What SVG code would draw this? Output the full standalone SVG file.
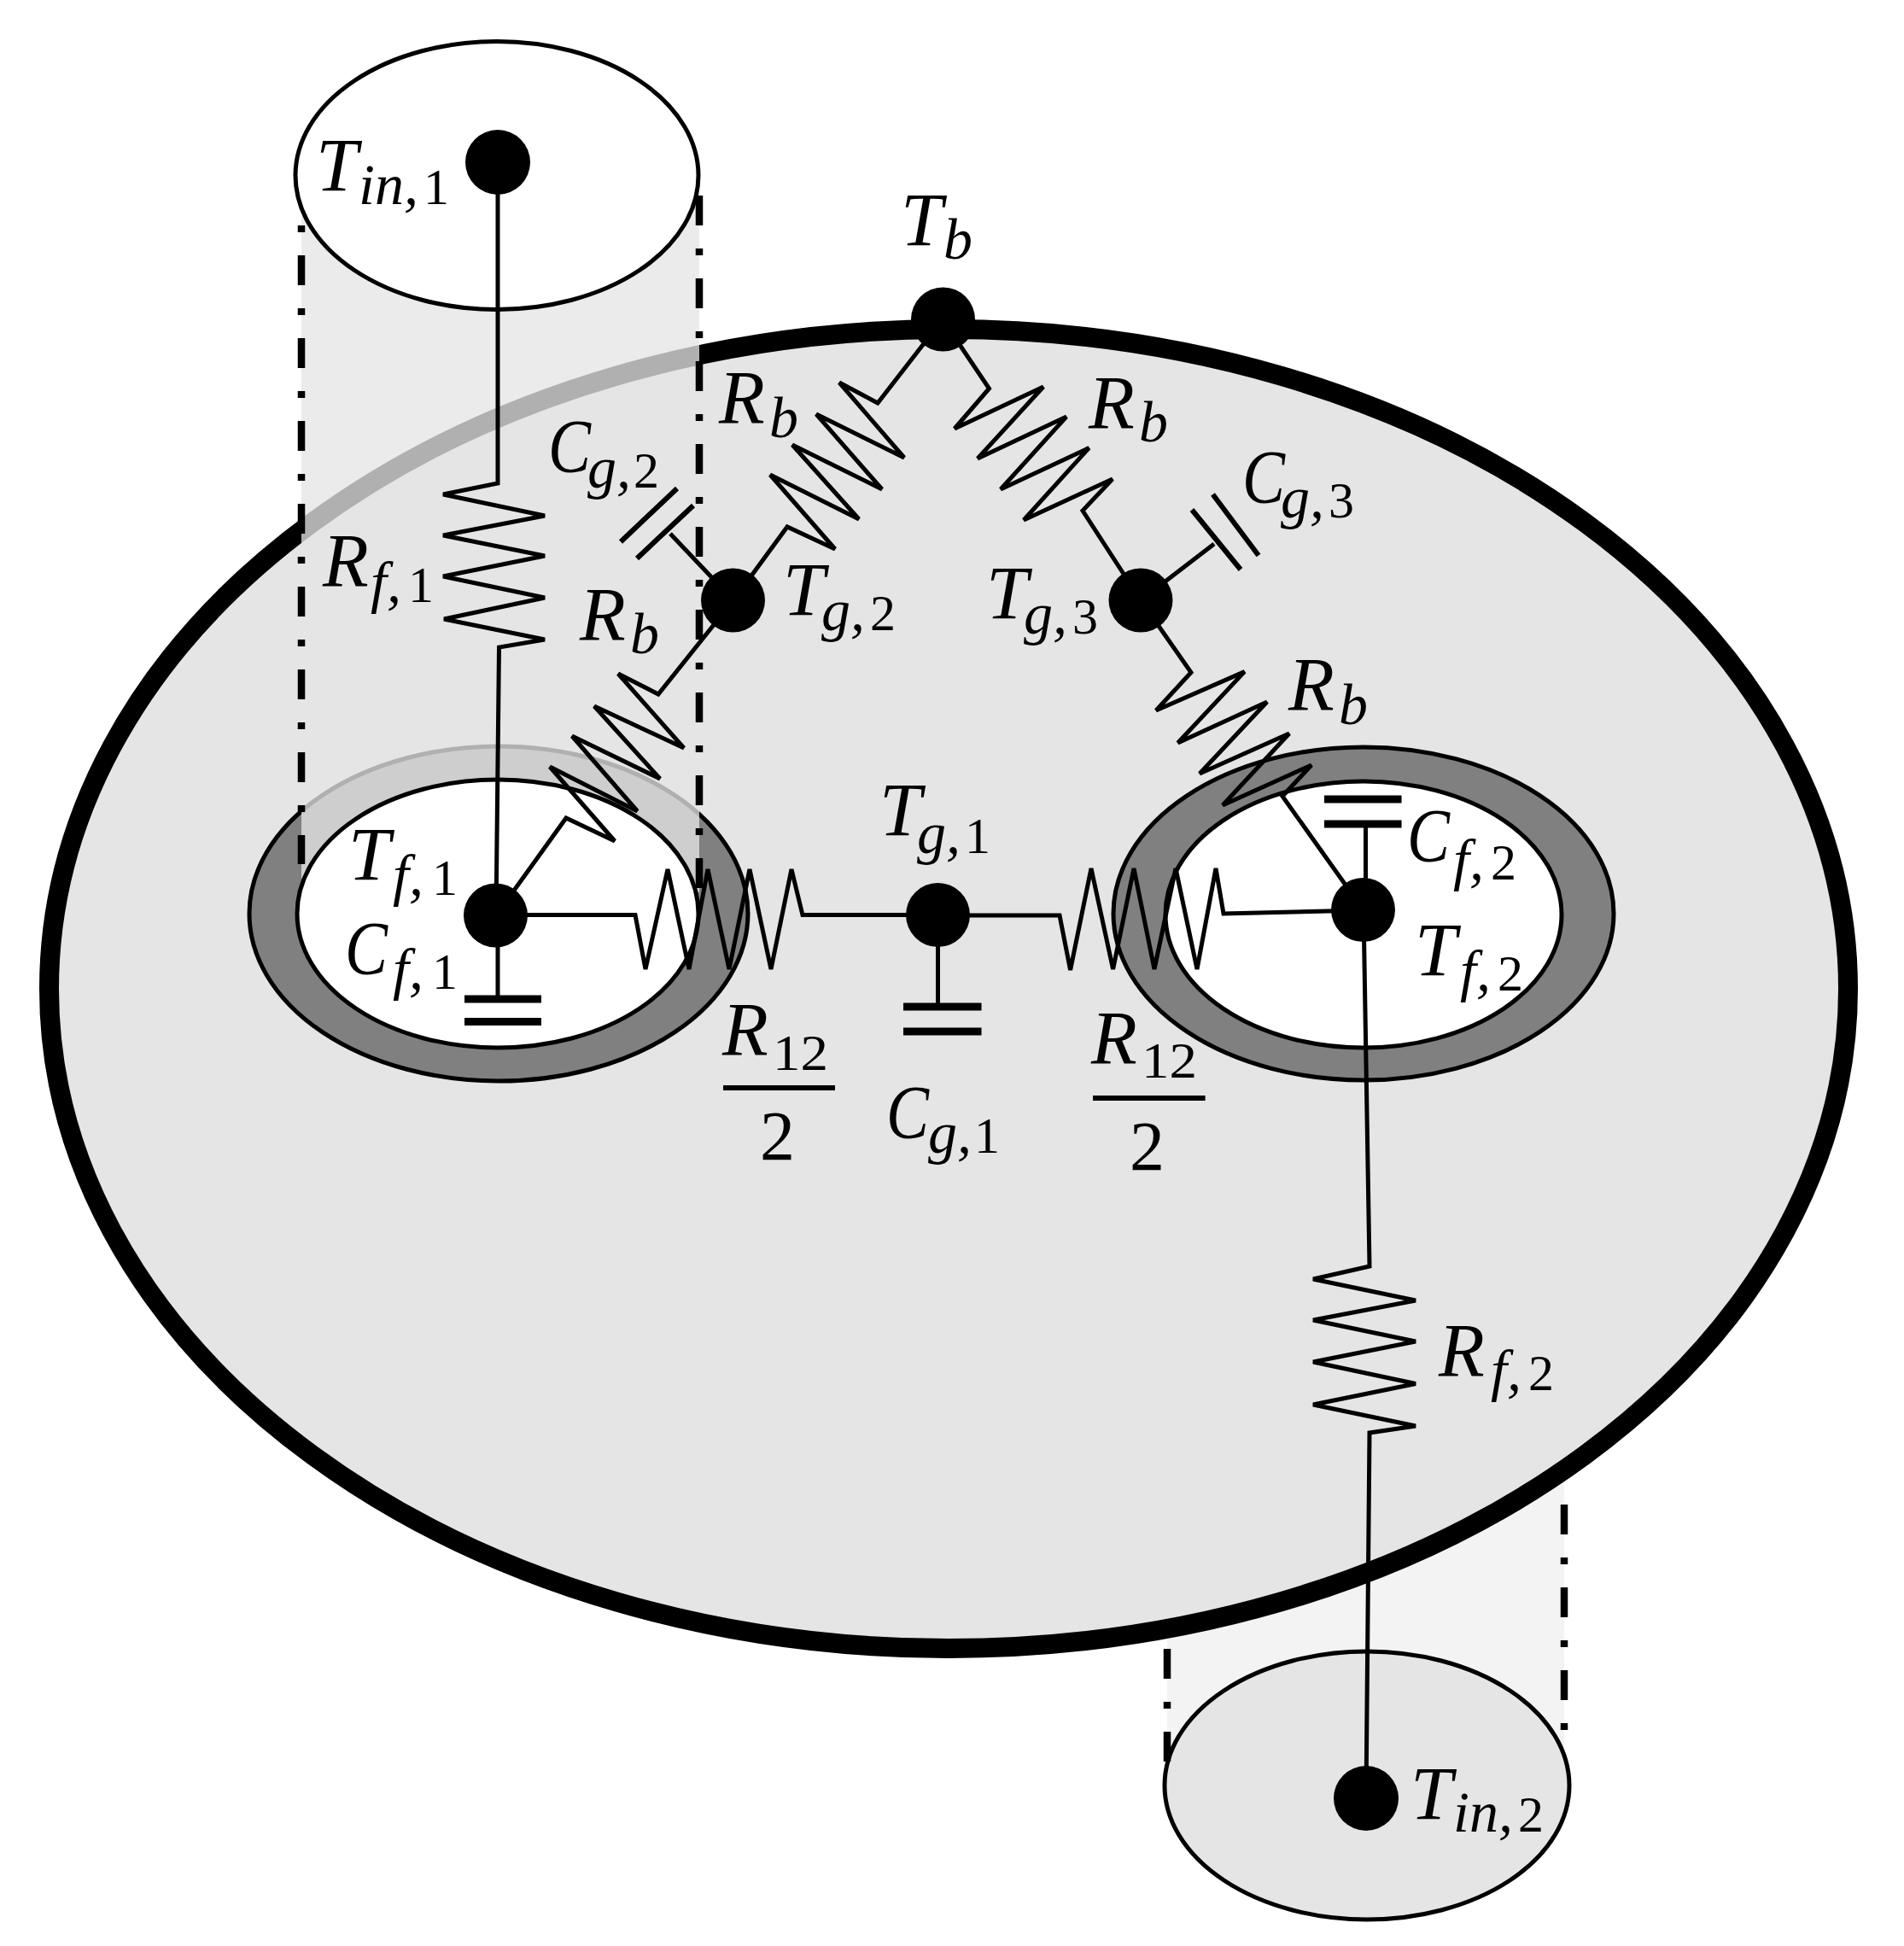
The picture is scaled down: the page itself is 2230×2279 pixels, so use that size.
<svg xmlns="http://www.w3.org/2000/svg" width="2230" height="2279" viewBox="0 0 2230 2279">
<style>
.w{fill:none;stroke:#000;stroke-width:5;stroke-linejoin:miter}
.p{fill:none;stroke:#000;stroke-width:9}
.q{fill:none;stroke:#000;stroke-width:6}
.d{fill:none;stroke:#000;stroke-width:8.5}
.e{stroke:#000;stroke-width:5}
.n{fill:#000}
text{font-family:"Liberation Serif","Times New Roman",serif;fill:#000}
.m{font-size:88px;font-style:italic}
.s{font-size:68px;font-style:italic}
.u{font-size:60px;font-style:normal}
.b{font-size:82px;font-style:normal}
</style>
<g id="cylinder-bottom-shade"><rect x="1367" y="1700" width="465" height="400" fill="#f3f3f3"/></g>
<g id="body"><ellipse cx="1111" cy="1158" rx="1053.5" ry="772.5" fill="#e5e5e5" stroke="#000" stroke-width="23"/></g>
<g id="wall-1"><ellipse class="e" cx="584" cy="1070" rx="292" ry="196" fill="#808080"/></g>
<g id="wall-2"><ellipse class="e" cx="1597" cy="1070" rx="293" ry="195" fill="#808080"/></g>
<g id="cylinder-top-shade"><rect x="353" y="205" width="466" height="840" fill="#e5e5e5" fill-opacity="0.77"/></g>
<g id="hole-1"><ellipse class="e" cx="583" cy="1070" rx="235" ry="157" fill="#fff"/></g>
<g id="hole-2"><ellipse class="e" cx="1597" cy="1071" rx="232" ry="156" fill="#fff"/></g>
<g id="inlet-1"><ellipse class="e" cx="582" cy="205.500" rx="236" ry="157" fill="#fff"/></g>
<g id="inlet-2"><ellipse class="e" cx="1601" cy="2091" rx="237" ry="157" fill="#e5e5e5"/></g>
<g id="cylinder-edges">
<path class="d" stroke-dasharray="8 27 35 27" d="M353 264V1012"/>
<path class="d" stroke-dasharray="35 27 8 27" d="M819 229V1042"/>
<path class="d" stroke-dasharray="35 27 8 27" d="M1367 1931V2064"/>
<path class="d" stroke-dasharray="35 27 8 27" d="M1832 1762V2026"/>
</g>
<g id="connectors">
<path class="w" d="M583 190V566L519 579 638 604 519 627 638 651 519 675 638 700 520 725 638 749 584.500 758 581 1072"/>
<path class="w" d="M1600 2106 1604 1678 1658 1670 1538 1645 1658 1620.500 1538 1595 1658 1571 1538 1546 1658 1523 1538 1498 1604 1483 1597 1066"/>
<path class="w" d="M1104 374 1028 472 983 448 1059 536 956 485 1033 573 928 521 1006 608 902 556 978 643 922 617 859 703"/>
<path class="w" d="M1104 374 1158.500 455 1118 502 1222 453 1145 537 1249 488 1172 573 1275.500 524.500 1199 609 1303 561 1268 598 1336 703"/>
<path class="w" d="M859 703 771 813 724 789 801 876 696 827 773 912 670 862 746.500 950 644 898 720 985 663 958 581 1072"/>
<path class="w" d="M1336 703 1395 787.500 1354 832 1457.600 786.600 1379.500 870 1484 822 1405 906 1510 859 1432 943 1536 896 1502 932.500 1597 1066"/>
<path class="w" d="M581 1071.500H744L756 1135 782 1018 807 1135 829 1018 854 1135 878 1018 903 1135 927 1018 940 1071.500H1098.500"/>
<path class="w" d="M1098.500 1072H1241L1253.600 1136 1278 1017 1303.600 1135 1328 1017 1352 1135 1377 1017 1402 1135 1424 1017 1433 1070 1597 1066"/>
<path class="w" d="M1336 703 1422 637"/>
<path class="q" d="M1396 597 1453 667M1420.500 579 1474 650.500"/>
<path class="w" d="M859 703 785 625"/>
<path class="q" d="M793 572 727 634.500M812 592 746 654"/>
<path class="w" d="M583 1072V1166"/>
<path class="p" d="M544 1170H634M544 1196.500H634"/>
<path class="w" d="M1098.500 1072V1175"/>
<path class="p" d="M1058 1179H1149.500M1058 1208H1149.500"/>
<path class="w" d="M1599.500 1066V965"/>
<path class="p" d="M1551 936H1641.500M1551 965H1641.500"/>
<path class="q" d="M847 1274H978M1280 1286H1411.600"/>
</g>
<g id="node-Tin1"><circle class="n" cx="583" cy="190" r="38"/><text class="m" x="370" y="223">T</text><text class="s" y="239"><tspan x="420">in,</tspan><tspan class="u" x="496">1</tspan></text></g>
<g id="node-Tin2"><circle class="n" cx="1600" cy="2106" r="38"/><text class="m" x="1652" y="2130">T</text><text class="s" y="2145"><tspan x="1702">in,</tspan><tspan class="u" x="1778">2</tspan></text></g>
<g id="node-Tb"><circle class="n" cx="1104.500" cy="374" r="37.500"/><text class="m" x="1055" y="287">T</text><text class="s" x="1105" y="303">b</text></g>
<g id="node-Tg2"><circle class="n" cx="858.500" cy="703" r="37.500"/><text class="m" x="917" y="720">T</text><text class="s" y="738"><tspan x="962">g,</tspan><tspan class="u" x="1019">2</tspan></text></g>
<g id="node-Tg3"><circle class="n" cx="1336" cy="703" r="37.500"/><text class="m" x="1155" y="724">T</text><text class="s" y="742"><tspan x="1199">g,</tspan><tspan class="u" x="1256">3</tspan></text></g>
<g id="node-Tg1"><circle class="n" cx="1098.500" cy="1071.500" r="37.500"/><text class="m" x="1030" y="978">T</text><text class="s" y="999"><tspan x="1074">g,</tspan><tspan class="u" x="1130">1</tspan></text></g>
<g id="node-Tf1"><circle class="n" cx="580.500" cy="1072" r="37.500"/><text class="m" x="408" y="1030">T</text><text class="s" y="1048"><tspan x="460">f,</tspan><tspan class="u" x="506">1</tspan></text></g>
<g id="node-Tf2"><circle class="n" cx="1596.500" cy="1065.500" r="37.500"/><text class="m" x="1657" y="1142">T</text><text class="s" y="1160"><tspan x="1710">f,</tspan><tspan class="u" x="1754">2</tspan></text></g>
<g id="labels">
<text class="m" x="842" y="495">R</text><text class="s" x="901" y="512">b</text>
<text class="m" x="1275" y="501">R</text><text class="s" x="1334" y="517">b</text>
<text class="m" x="679" y="749">R</text><text class="s" x="738" y="765">b</text>
<text class="m" x="1509" y="831">R</text><text class="s" x="1568" y="848">b</text>
<text class="m" x="378" y="686">R</text><text class="s" y="705"><tspan x="434">f,</tspan><tspan class="u" x="478">1</tspan></text>
<text class="m" x="1685" y="1611">R</text><text class="s" y="1628"><tspan x="1746">f,</tspan><tspan class="u" x="1790">2</tspan></text>
<text class="m" x="642" y="552" textLength="50" lengthAdjust="spacingAndGlyphs">C</text><text class="s" y="571"><tspan x="688">g,</tspan><tspan class="u" x="742">2</tspan></text>
<text class="m" x="1455" y="588" textLength="50" lengthAdjust="spacingAndGlyphs">C</text><text class="s" y="606"><tspan x="1500">g,</tspan><tspan class="u" x="1556">3</tspan></text>
<text class="m" x="1038" y="1332" textLength="50" lengthAdjust="spacingAndGlyphs">C</text><text class="s" y="1350"><tspan x="1087">g,</tspan><tspan class="u" x="1141">1</tspan></text>
<text class="m" x="404" y="1140" textLength="50" lengthAdjust="spacingAndGlyphs">C</text><text class="s" y="1158"><tspan x="460">f,</tspan><tspan class="u" x="506">1</tspan></text>
<text class="m" x="1648" y="1008" textLength="50" lengthAdjust="spacingAndGlyphs">C</text><text class="s" y="1030"><tspan x="1702">f,</tspan><tspan class="u" x="1746">2</tspan></text>
<text class="m" x="846" y="1235">R</text><text class="u" x="905" y="1253" textLength="65" lengthAdjust="spacingAndGlyphs">12</text>
<text class="b" x="890" y="1358">2</text>
<text class="m" x="1278" y="1245">R</text><text class="u" x="1337" y="1262" textLength="65" lengthAdjust="spacingAndGlyphs">12</text>
<text class="b" x="1323" y="1370">2</text>
</g>
</svg>
